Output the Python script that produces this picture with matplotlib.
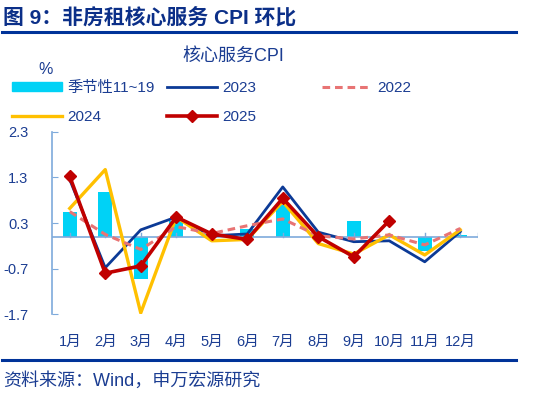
import numpy as np
import matplotlib
matplotlib.use('Agg')
import matplotlib.pyplot as plt
from matplotlib.lines import Line2D
from matplotlib.patches import Patch

plt.rcParams['font.family'] = ['Liberation Sans', 'Noto Sans CJK SC']

months = ['1月', '2月', '3月', '4月', '5月', '6月', '7月', '8月', '9月', '10月', '11月', '12月']
seasonal = [0.55, 0.97, -0.93, 0.35, 0.05, 0.16, 0.70, 0.03, 0.34, 0.02, -0.31, 0.04]
y2022 = [0.55, 0.05, -0.28, 0.22, 0.07, 0.24, 0.39, 0.02, -0.05, 0.04, -0.18, 0.18]
y2023 = [1.25, -0.68, 0.15, 0.43, 0.02, 0.06, 1.09, 0.10, -0.11, -0.09, -0.55, 0.11]
y2024 = [0.62, 1.47, -1.67, 0.43, -0.09, -0.06, 0.77, -0.15, -0.38, 0.04, -0.40, 0.15]
y2025 = [1.32, -0.80, -0.64, 0.43, 0.06, -0.06, 0.84, 0.00, -0.44, 0.35]
yticks = [-1.7, -0.7, 0.3, 1.3, 2.3]

navy = '#1b3d92'
axis_blue = '#7eaadb'

fig = plt.figure(figsize=(5.43, 3.93), dpi=100)
ax = fig.add_axes([52/543, 1-314.3/393, 426/543, (314.3-131.7)/393])

x = np.arange(len(months))
ax.bar(x, seasonal, width=0.4, color='#00d2f6', zorder=2)
ax.axhline(0, color=axis_blue, lw=1.2, zorder=3)
ax.plot(x, y2023, color='#0c3a96', lw=2.0, zorder=4)
ax.plot(x, y2024, color='#ffc000', lw=2.4, zorder=5)
ax.plot(x, y2022, color='#e87474', lw=2.2, ls=(0, (2.5, 1.6)), zorder=6)
ax.plot(np.arange(len(y2025)), y2025, color='#c00000', lw=2.6,
        marker='D', markersize=6, zorder=7)

ax.set_xlim(-0.5, 11.5)
ax.set_ylim(-1.7, 2.3)
ax.set_yticks(yticks)
ax.set_yticklabels(['%.1f' % v for v in yticks])
ax.set_xticks(x)
ax.set_xticklabels(months)

for s in ['top', 'right', 'bottom']:
  ax.spines[s].set_visible(False)
ax.spines['left'].set_color(axis_blue)
ax.spines['left'].set_linewidth(1.2)
ax.tick_params(axis='y', direction='in', length=4, color=axis_blue,
               labelsize=10.5, labelcolor=navy, pad=17)
ax.tick_params(axis='x', length=0, labelsize=10.5, labelcolor=navy, pad=15)
# small upward ticks on the zero line
for xi in list(x) + [11.5]:
  ax.plot([xi, xi], [0, 0.07], color=axis_blue, lw=1, zorder=3)

# legend, three columns placed by hand
bar_h = Patch(color='#00d2f6')
h23 = Line2D([], [], color='#0c3a96', lw=2.0)
h22 = Line2D([], [], color='#e87474', lw=2.2, ls=(0, (2.5, 1.6)))
h24 = Line2D([], [], color='#ffc000', lw=2.4)
h25 = Line2D([], [], color='#c00000', lw=2.6, marker='D', markersize=6)
leg_kw = dict(loc='upper left', frameon=False, fontsize=11, borderpad=0,
              borderaxespad=0, handlelength=3.3, handletextpad=0.3,
              labelspacing=1.0, handleheight=0.5, labelcolor=navy)
top = 1-81/393
fig.legend([bar_h, h24], ['季节性11~19', '2024'],
           bbox_to_anchor=(12/543, top), **leg_kw)
fig.legend([h23, h25], ['2023', '2025'],
           bbox_to_anchor=(167/543, top), **leg_kw)
fig.legend([h22], ['2022'],
           bbox_to_anchor=(322/543, top), **leg_kw)

fig.text(233/543, 1-56/393, '核心服务CPI', ha='center', va='center',
         fontsize=13, color=navy)
fig.text(46/543, 1-70/393, '%', ha='center', va='center',
         fontsize=11.5, color=navy)

# header and footer
fig.text(3/543, 1-17/393, '图 9：非房租核心服务 CPI 环比', ha='left', va='center',
         fontsize=15, fontweight='bold', color='#0b2f88')
fig.add_artist(Line2D([2/543, 516/543], [1-32/393, 1-32/393],
                      color='#003399', lw=2.2))
fig.add_artist(Line2D([2/543, 516/543], [1-360/393, 1-360/393],
                      color='#003399', lw=2.2))
fig.text(3/543, 1-381/393, '资料来源：Wind，申万宏源研究', ha='left', va='center',
         fontsize=13, color=navy)

fig.savefig('out.png', dpi=100)
